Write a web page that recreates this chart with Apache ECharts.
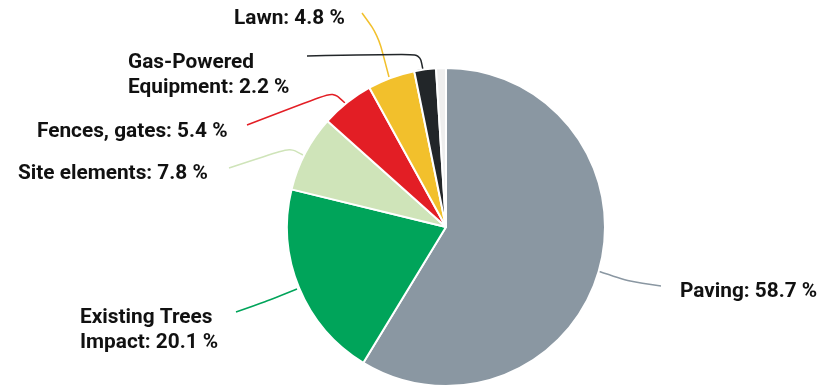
<!DOCTYPE html>
<html>
<head>
<meta charset="utf-8">
<script src="https://cdn.jsdelivr.net/npm/echarts@6/dist/echarts.min.js"></script>
<style>html,body{margin:0;padding:0;background:#fff;}#c{width:825px;height:388px;}</style>
</head>
<body>
<div id="c"></div>
<script>
var categories = ['Paving', 'Existing Trees\nImpact', 'Site elements', 'Fences, gates', 'Lawn', 'Gas-Powered\nEquipment', 'Other'];
var values = [58.7, 20.1, 7.8, 5.4, 4.8, 2.2, 1.0];
var colors = ['#8a97a2', '#00a45a', '#cfe4b9', '#e31e25', '#f2c02c', '#222629', '#eeeeee'];
var showLabel = [true, true, true, true, true, true, false];

// label placement (top-left of text) and leader line points, per slice
var labelPos = [[680, 279], [80, 305], [18, 161], [37, 119], [234, 6], [128, 50], [0, 0]];
var linePts = [
  [[598, 271], [630, 282], [661, 286]],
  [[297, 289], [265, 302], [236, 312]],
  [[303, 155], [290, 148], [229, 168]],
  [[345, 103], [333, 92], [247, 125]],
  [[389, 77], [378, 35], [362, 13]],
  [[423, 70], [420, 54], [307, 56]],
  null
];

var data = categories.map(function (c, i) {
  return {
    name: c,
    value: values[i],
    itemStyle: { color: colors[i] },
    label: { show: showLabel[i] },
    labelLine: { show: showLabel[i], lineStyle: { color: colors[i], width: 1.5 } }
  };
});

var chart = echarts.init(document.getElementById('c'), null, { renderer: 'canvas' });
chart.setOption({
  animation: false,
  backgroundColor: '#ffffff',
  series: [{
    type: 'pie',
    center: [446, 227],
    radius: 159,
    startAngle: 90,
    clockwise: true,
    avoidLabelOverlap: false,
    itemStyle: { borderColor: '#ffffff', borderWidth: 2 },
    label: {
      show: true,
      fontFamily: 'Roboto',
      fontWeight: 'bold',
      fontSize: 20.8,
      lineHeight: 25,
      color: '#111111',
      formatter: function (p) { return p.name + ': ' + p.value.toFixed(1) + ' %'; }
    },
    labelLine: { show: true, smooth: 0.3 },
    labelLayout: function (params) {
      var i = params.dataIndex;
      var res = { x: labelPos[i][0], y: labelPos[i][1], align: 'left', verticalAlign: 'top' };
      if (linePts[i]) res.labelLinePoints = linePts[i];
      return res;
    },
    data: data
  }]
});
</script>
</body>
</html>
